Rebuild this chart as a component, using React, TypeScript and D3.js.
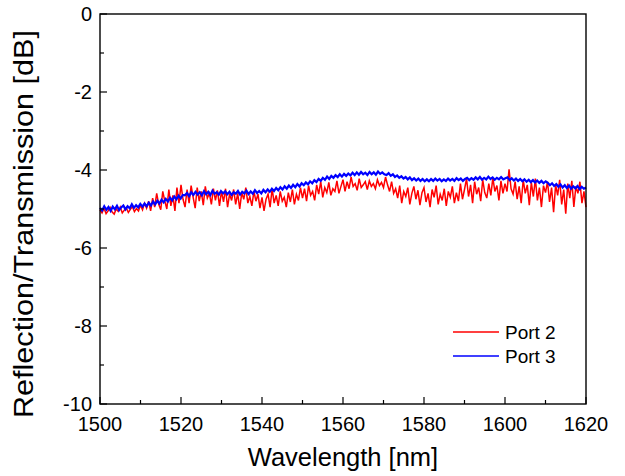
import React from "react";
import * as d3 from "d3";

const xTicks = [1500, 1520, 1540, 1560, 1580, 1600, 1620];
const yTicks = [0, -2, -4, -6, -8, -10];
const seriesNames = ["Port 2", "Port 3"];
const seriesColors = ["#ff0000", "#0000ff"];

const port2 = [
  -5.02,-5.10,-4.98,-5.12,-5.05,-4.96,-5.08,-5.13,-5.00,-5.06,-4.95,-5.10,-5.03,-4.97,-5.09,-5.01,-4.94,-5.07,-4.99,-5.05,
  -4.90,-5.02,-4.85,-4.98,-4.80,-5.05,-4.72,-4.95,-4.60,-4.88,-5.02,-4.55,-4.80,-5.00,-4.50,-4.92,-4.65,-5.05,-4.45,-4.85,
  -4.38,-4.75,-4.95,-4.50,-4.85,-4.40,-4.70,-4.98,-4.45,-4.80,-4.55,-4.90,-4.42,-4.72,-4.60,-4.88,-4.48,-4.78,-4.52,-4.92,
  -4.55,-4.82,-4.48,-4.95,-4.62,-4.78,-4.50,-4.88,-4.60,-5.00,-4.58,-4.75,-4.45,-4.85,-4.68,-4.92,-4.55,-4.80,-4.62,-4.98,
  -4.70,-5.05,-4.75,-4.62,-4.95,-4.48,-4.85,-4.65,-4.92,-4.55,-4.80,-4.70,-4.95,-4.58,-4.82,-4.50,-4.88,-4.62,-4.78,-4.45,
  -4.72,-4.48,-4.80,-4.40,-4.65,-4.55,-4.78,-4.38,-4.62,-4.30,-4.70,-4.45,-4.58,-4.32,-4.65,-4.48,-4.55,-4.28,-4.60,-4.42,
  -4.25,-4.55,-4.30,-4.48,-4.18,-4.42,-4.35,-4.52,-4.22,-4.45,-4.38,-4.30,-4.50,-4.28,-4.42,-4.35,-4.48,-4.25,-4.40,-4.32,
  -4.45,-4.18,-4.38,-4.55,-4.30,-4.60,-4.48,-4.72,-4.40,-4.85,-4.55,-4.68,-4.45,-4.88,-4.60,-4.42,-4.75,-4.52,-4.90,-4.58,
  -4.45,-4.82,-4.60,-4.95,-4.50,-4.70,-4.40,-4.88,-4.62,-4.78,-4.48,-4.92,-4.55,-4.70,-4.42,-4.85,-4.58,-4.80,-4.35,-4.75,
  -4.50,-4.22,-4.68,-4.38,-4.85,-4.30,-4.62,-4.45,-4.80,-4.25,-4.58,-4.72,-4.35,-4.65,-4.20,-4.55,-4.40,-4.78,-4.28,-4.60,
  -4.35,-4.55,-3.98,-4.48,-4.62,-4.30,-4.75,-4.42,-4.85,-4.25,-4.60,-4.38,-4.90,-4.32,-4.68,-4.22,-4.78,-4.45,-4.95,-4.40,
  -4.58,-4.30,-4.82,-4.45,-5.08,-4.38,-4.65,-4.25,-4.88,-4.50,-5.12,-4.35,-4.72,-4.28,-4.95,-4.42,-4.60,-4.30,-4.85,-4.55,-4.95,
];

const port3 = [
  -4.97,-5.04,-4.93,-5.02,-4.95,-5.05,-4.94,-5.01,-4.92,-5.03,-4.96,-4.91,-5.01,-4.93,-4.98,-4.88,-4.97,-4.90,-4.96,-4.87,-4.94,
  -4.86,-4.93,-4.84,-4.91,-4.81,-4.88,-4.79,-4.86,-4.76,-4.83,-4.74,-4.81,-4.71,-4.78,-4.68,-4.75,-4.66,-4.73,-4.64,
  -4.65,-4.59,-4.67,-4.57,-4.64,-4.56,-4.63,-4.57,-4.65,-4.54,-4.62,-4.56,-4.64,-4.53,-4.61,-4.57,-4.63,-4.54,-4.60,
  -4.55,-4.62,-4.56,-4.64,-4.57,-4.61,-4.54,-4.63,-4.56,-4.60,-4.53,-4.62,-4.55,-4.61,-4.52,-4.59,-4.54,-4.60,-4.51,
  -4.57,-4.50,-4.56,-4.48,-4.54,-4.46,-4.52,-4.44,-4.50,-4.42,-4.48,-4.40,-4.46,-4.38,-4.44,-4.36,-4.42,-4.34,-4.39,
  -4.32,-4.37,-4.29,-4.34,-4.26,-4.31,-4.23,-4.28,-4.20,-4.25,-4.17,-4.23,-4.15,-4.20,-4.13,-4.18,-4.11,-4.17,-4.10,
  -4.15,-4.09,-4.14,-4.07,-4.13,-4.06,-4.12,-4.05,-4.11,-4.07,-4.13,-4.05,-4.11,-4.06,-4.12,-4.04,-4.10,-4.06,-4.11,
  -4.13,-4.08,-4.15,-4.11,-4.18,-4.14,-4.20,-4.16,-4.22,-4.18,-4.24,-4.19,-4.26,-4.21,-4.27,-4.22,-4.28,-4.23,-4.29,
  -4.24,-4.29,-4.23,-4.28,-4.22,-4.27,-4.23,-4.29,-4.24,-4.28,-4.22,-4.27,-4.23,-4.28,-4.21,-4.26,-4.22,-4.28,-4.23,
  -4.20,-4.26,-4.21,-4.25,-4.19,-4.24,-4.18,-4.25,-4.20,-4.24,-4.17,-4.23,-4.19,-4.25,-4.20,-4.24,-4.18,-4.24,-4.21,
  -4.19,-4.26,-4.21,-4.27,-4.22,-4.28,-4.23,-4.29,-4.24,-4.30,-4.25,-4.31,-4.26,-4.32,-4.27,-4.33,-4.28,-4.34,-4.29,
  -4.33,-4.39,-4.34,-4.41,-4.36,-4.43,-4.37,-4.45,-4.39,-4.46,-4.40,-4.48,-4.42,-4.47,-4.41,-4.49,-4.43,-4.48,-4.45,
];

const X_MIN = 1500;
const X_MAX = 1620;

const W = 625;
const H = 476;
const M = { left: 100, right: 586, top: 14, bottom: 404 };
const FONT = "Arial, 'Liberation Sans', sans-serif";

export default function App() {
  const x = d3.scaleLinear().domain([X_MIN, X_MAX]).range([M.left, M.right]);
  const y = d3.scaleLinear().domain([-10, 0]).range([M.bottom, M.top]);

  const makePath = (vals: number[]) => {
    const n = vals.length;
    const idx = d3.scaleLinear().domain([0, n - 1]).range([X_MIN, X_MAX]);
    return d3
      .line<number>()
      .x((_, i) => x(idx(i)))
      .y((d) => y(d))(vals) as string;
  };

  const xMinor = d3.range(X_MIN + 10, X_MAX, 20);
  const yMinor = d3.range(-9, 0, 2);

  return (
    <svg
      width={W}
      height={H}
      style={{ position: "absolute", left: 0, top: 0, background: "#fff" }}
      fontFamily={FONT}
    >
      <rect x={0} y={0} width={W} height={H} fill="#fff" />
      <path d={makePath(port2)} fill="none" stroke={seriesColors[0]} strokeWidth={1.5} />
      <path d={makePath(port3)} fill="none" stroke={seriesColors[1]} strokeWidth={2.2} />

      <rect
        x={M.left}
        y={M.top}
        width={M.right - M.left}
        height={M.bottom - M.top}
        fill="none"
        stroke="#000"
        strokeWidth={1.4}
      />

      {xTicks.map((t) => (
        <g key={"xt" + t}>
          <line x1={x(t)} x2={x(t)} y1={M.bottom} y2={M.bottom - 7} stroke="#000" strokeWidth={1.2} />
          <text x={x(t)} y={431} fontSize={20} textAnchor="middle" fill="#000">
            {t}
          </text>
        </g>
      ))}
      {xMinor.map((t) => (
        <line key={"xm" + t} x1={x(t)} x2={x(t)} y1={M.bottom} y2={M.bottom - 4} stroke="#000" strokeWidth={1.2} />
      ))}
      {yTicks.map((t) => (
        <g key={"yt" + t}>
          <line x1={M.left} x2={M.left + 7} y1={y(t)} y2={y(t)} stroke="#000" strokeWidth={1.2} />
          <text x={92} y={y(t) + 7} fontSize={20} textAnchor="end" fill="#000">
            {t}
          </text>
        </g>
      ))}
      {yMinor.map((t) => (
        <line key={"ym" + t} x1={M.left} x2={M.left + 4} y1={y(t)} y2={y(t)} stroke="#000" strokeWidth={1.2} />
      ))}

      <text x={343} y={466} fontSize={25.5} textAnchor="middle" fill="#000">
        Wavelength [nm]
      </text>
      <text
        transform={`translate(33, 224) rotate(-90)`}
        fontSize={27}
        textAnchor="middle"
        textLength={388}
        lengthAdjust="spacingAndGlyphs"
        fill="#000"
      >
        Reflection/Transmission [dB]
      </text>

      {seriesNames.map((name, i) => (
        <g key={name}>
          <line x1={453} x2={499} y1={332 + i * 24} y2={332 + i * 24} stroke={seriesColors[i]} strokeWidth={1.3} />
          <text x={505} y={339 + i * 24} fontSize={19} fill="#000">
            {name}
          </text>
        </g>
      ))}
    </svg>
  );
}
